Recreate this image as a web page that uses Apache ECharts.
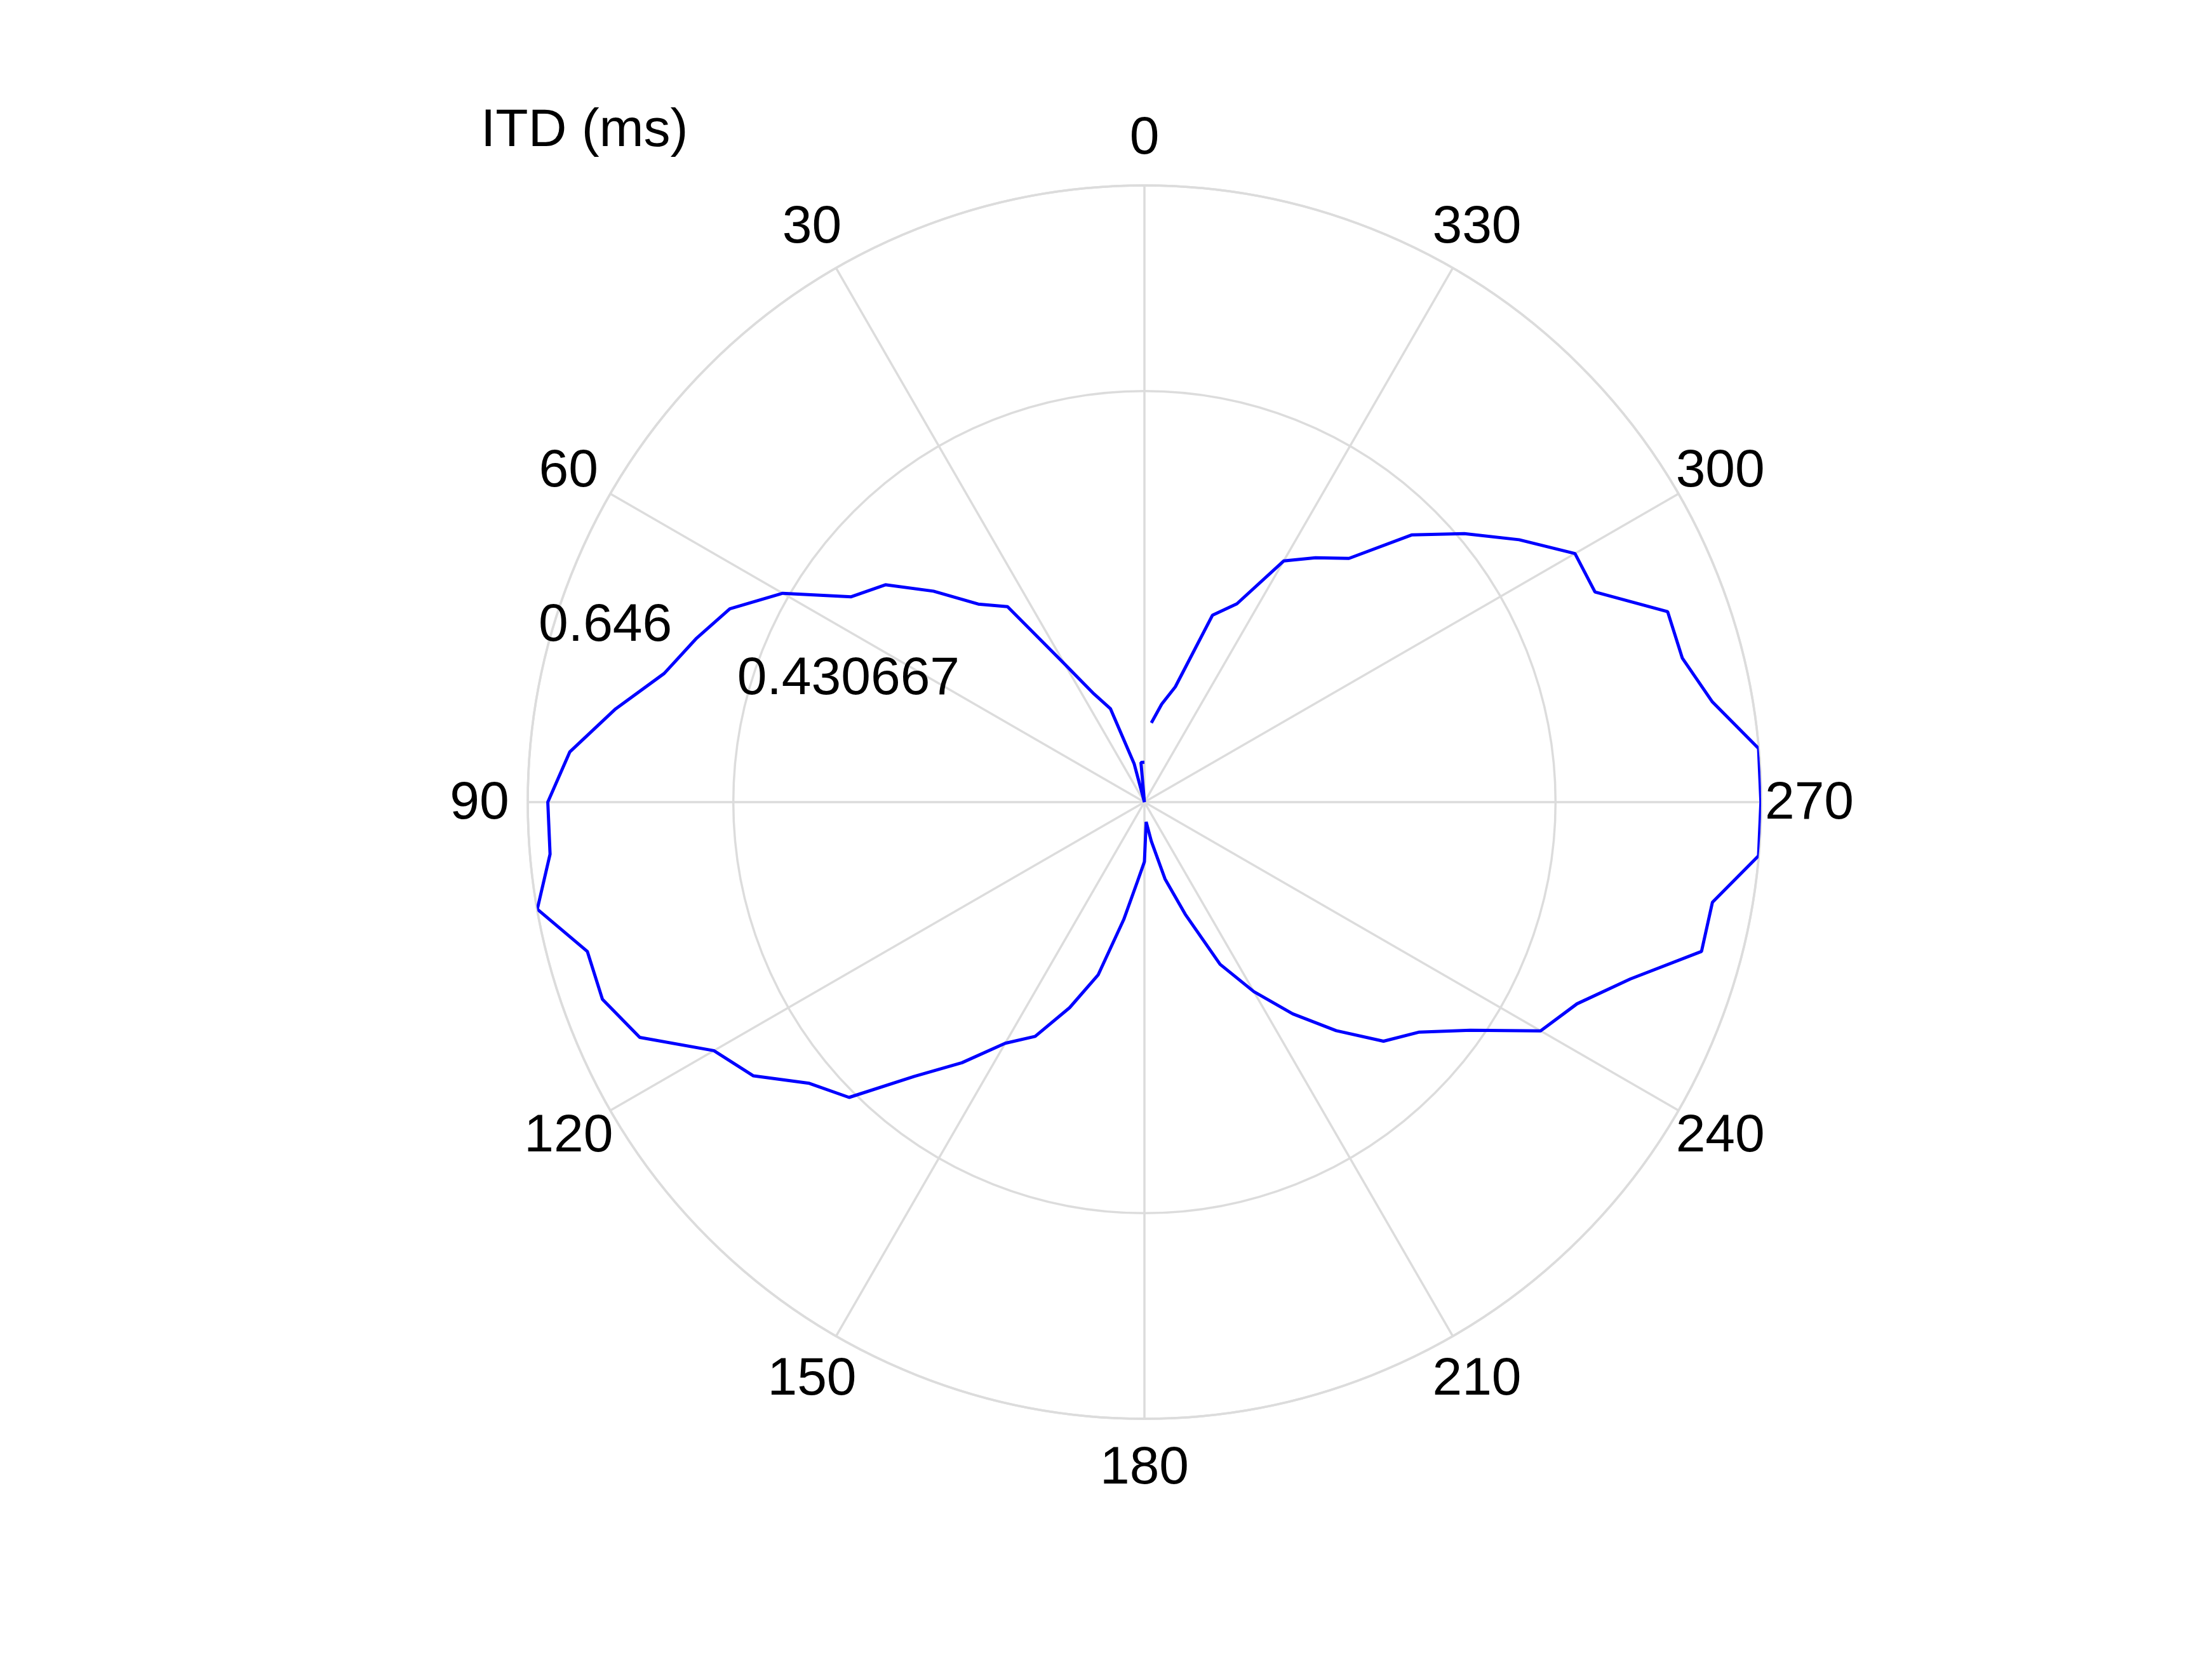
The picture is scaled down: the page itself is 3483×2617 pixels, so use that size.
<!DOCTYPE html>
<html><head><meta charset="utf-8">
<script src="https://cdn.jsdelivr.net/npm/echarts@6/dist/echarts.min.js"></script>
<style>html,body{margin:0;padding:0;background:#fff}#c{width:3483px;height:2617px}</style>
</head><body><div id="c"></div>
<script>
// azimuth (deg, counter-clockwise from top)
const azimuth = [0,5,10,15,20,25,30,35,40,45,50,55,60,65,70,75,80,85,
  90,95,100,105,110,115,120,125,130,135,140,145,150,155,160,165,170,175,
  180,185,190,195,200,205,210,215,220,225,230,235,240,245,250,255,260,265,
  270,275,280,285,290,295,300,305,310,315,320,325,330,335,340,345,350,355];
// ITD magnitude (ms)
const itd = [0.0417,0.0417,0,0.0417,0.1042,0.125,0.1667,0.25,0.2708,0.3125,0.3542,0.375,0.4375,0.4792,0.5,0.5208,0.5625,0.6042,
  0.625,0.625,0.6458,0.6042,0.6042,0.5833,0.5208,0.5,0.4583,0.4375,0.375,0.3333,0.2917,0.2708,0.2292,0.1875,0.125,0.0833,
  0.0625,0.0208,0.0417,0.0833,0.125,0.1875,0.2292,0.2708,0.3125,0.3542,0.375,0.4167,0.4792,0.5,0.5417,0.6042,0.6042,0.6458,
  0.6458,0.6458,0.6042,0.5833,0.5833,0.5208,0.5208,0.4792,0.4375,0.3958,0.3333,0.3125,0.2917,0.2292,0.2083,0.125,0.1042,0.0833];
const angleTicks = [0,30,60,90,120,150,180,210,240,270,300,330];
const radialTicks = [0.430667, 0.646];
const radialTickLabels = ['0.430667', '0.646'];
const rMax = 0.646;
const rInterval = 0.430667;

const chart = echarts.init(document.getElementById('c'), null, {renderer:'canvas', width:3483, height:2617});
const font = '"Liberation Sans", Arial, Helvetica, sans-serif';
const gridColor = '#dcdcdc';
const labelStyle = {fontSize: 84, fontFamily: font, color: '#000000', textBorderWidth: 0, opacity: 1};
const option = {
  backgroundColor: '#ffffff',
  animation: false,
  polar: [
    {center: [1802, 1263], radius: 971},
    {center: [1802, 1266], radius: 1047}
  ],
  angleAxis: [
    {polarIndex: 0, type: 'value', min: 0, max: 360, interval: 30, startAngle: 90, clockwise: false,
     axisLine: {show: true, lineStyle: {color: gridColor, width: 3.5}},
     axisTick: {show: false}, axisLabel: {show: false},
     splitLine: {show: true, lineStyle: {color: gridColor, width: 3.5}}},
    {polarIndex: 1, type: 'value', min: 0, max: 360, startAngle: 90, clockwise: false, show: false}
  ],
  radiusAxis: [
    {polarIndex: 0, type: 'value', min: 0, max: rMax, interval: rInterval,
     axisLine: {show: false}, axisTick: {show: false}, axisLabel: {show: false},
     splitLine: {show: true, lineStyle: {color: gridColor, width: 3.5}}},
    {polarIndex: 1, type: 'value', min: 0, max: 1, show: false}
  ],
  series: [
    {type: 'line', coordinateSystem: 'polar', polarIndex: 0,
     data: azimuth.map((a, i) => [itd[i], a]),
     symbol: 'none', clip: false,
     lineStyle: {color: '#0000ff', width: 5}},
    {type: 'scatter', coordinateSystem: 'polar', polarIndex: 1, clip: false,
     data: angleTicks.map(a => [1, a]),
     symbolSize: 0, itemStyle: {color: '#000000'},
     label: Object.assign({show: true, position: 'inside', align: 'center', verticalAlign: 'middle',
       formatter: p => String(p.value[1])}, labelStyle)},
    {type: 'scatter', coordinateSystem: 'polar', polarIndex: 0, clip: false,
     data: radialTicks.map((v, i) => ({value: [v, 75], name: radialTickLabels[i]})),
     symbolSize: 0, itemStyle: {color: '#000000'},
     label: Object.assign({show: true, position: 'inside', align: 'left', verticalAlign: 'middle', offset: [-16, -26],
       formatter: p => p.name}, labelStyle)}
  ],
  graphic: [
    {type: 'text', x: 757, y: 207,
     style: {text: 'ITD (ms)', fontSize: 84, fontFamily: font, fill: '#000', align: 'left', verticalAlign: 'middle'}}
  ]
};
chart.setOption(option);
</script></body></html>
